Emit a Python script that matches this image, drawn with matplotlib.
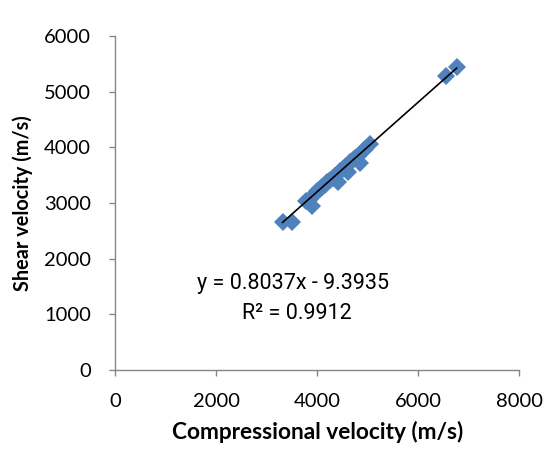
import matplotlib
matplotlib.use("Agg")
import matplotlib.pyplot as plt
import numpy as np

# Data
vp = [3310, 3500, 3780, 3850, 3900, 3950, 4000, 4050, 4100, 4150, 4200, 4250,
      4300, 4350, 4400, 4450, 4500, 4550, 4600, 4650, 4700, 4750, 4800, 4850,
      4900, 4950, 5050, 6550, 6760]
vs = [2660, 2660, 3040, 3080, 2950, 3170, 3210, 3250, 3290, 3330, 3370, 3410,
      3450, 3490, 3380, 3570, 3610, 3650, 3560, 3730, 3770, 3800, 3840, 3720,
      3930, 3970, 4060, 5280, 5440]
slope = 0.8037
intercept = -9.3935
r2 = 0.9912
xticks = [0, 2000, 4000, 6000, 8000]
yticks = [0, 1000, 2000, 3000, 4000, 5000, 6000]

plt.rcParams['font.family'] = ['Lato', 'DejaVu Sans']

fig = plt.figure(figsize=(5.46, 4.58), dpi=100)
ax = fig.add_axes([0.2115, 0.1921, 0.951 - 0.2115, 0.9214 - 0.1921])

ax.plot(vp, vs, linestyle='none', marker='D', markersize=8.8,
        color='#4F81BD', markeredgewidth=0)
xl = np.array([min(vp), max(vp)])
ax.plot(xl, slope * xl + intercept, color='black', linewidth=1.2)

ax.set_xlim(0, 8000)
ax.set_ylim(0, 6000)
ax.set_xticks(xticks)
ax.set_yticks(yticks)
ax.set_xticklabels([str(t) for t in xticks])
ax.set_yticklabels([str(t) for t in yticks])

for s in ['top', 'right']:
    ax.spines[s].set_visible(False)
for s in ['left', 'bottom']:
    ax.spines[s].set_color('#868686')
    ax.spines[s].set_linewidth(1.0)
ax.tick_params(axis='both', colors='#868686', length=4.5, width=1.0,
               labelsize=14.5, labelcolor='black', direction='out')
ax.tick_params(axis='x', pad=12)
ax.tick_params(axis='y', pad=13)

ax.set_xlabel('Compressional velocity (m/s)', fontsize=16.3, fontweight='bold')
ax.set_ylabel('Shear velocity (m/s)', fontsize=14.3, fontweight='bold')
ax.xaxis.set_label_coords(0.5, -0.152)
ax.yaxis.set_label_coords(-0.205, 0.5)

eq_font = ['Roboto', 'DejaVu Sans']
ax.text(1614, 1560, 'y = %.4fx - %.4f' % (slope, -intercept), fontsize=15.5,
        family=eq_font, ha='left', va='center')
ax.text(2505, 1020, 'R² = %.4f' % r2, fontsize=15.5, family=eq_font,
        ha='left', va='center')

fig.savefig('out.png', dpi=100)
